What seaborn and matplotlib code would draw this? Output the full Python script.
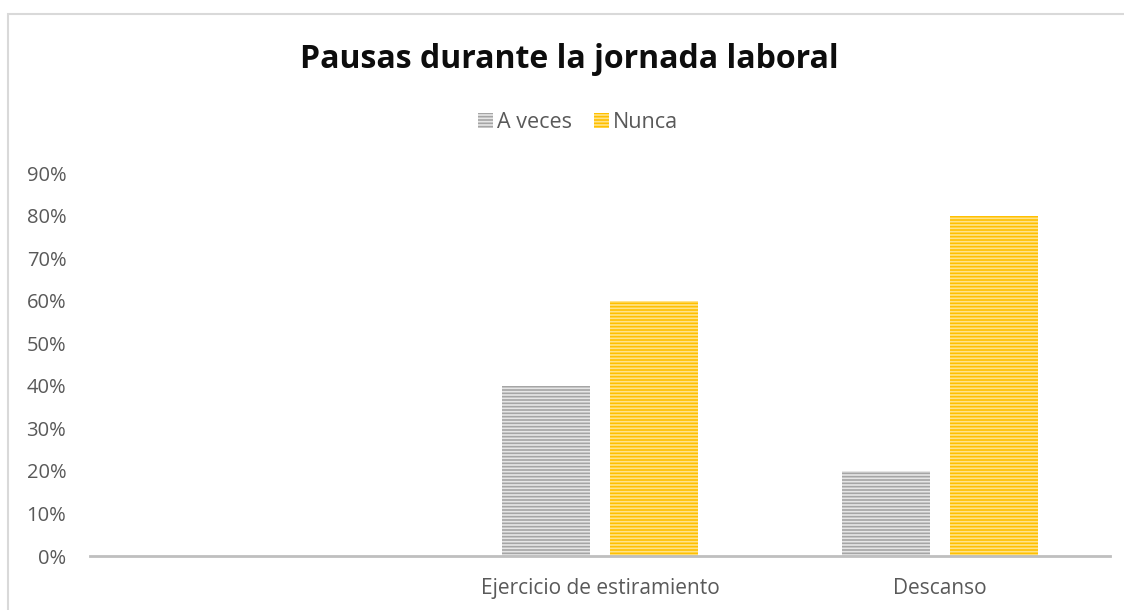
import pandas as pd
import seaborn as sns
import matplotlib.pyplot as plt
from matplotlib.patches import Rectangle
from matplotlib.ticker import PercentFormatter

categorias = ["", "Ejercicio de estiramiento", "Descanso"]
a_veces = [0.0, 0.40, 0.20]
nunca = [0.0, 0.60, 0.80]
series = ["A veces", "Nunca"]

df = pd.DataFrame({"categoria": categorias * 2,
                   "serie": [series[0]] * 3 + [series[1]] * 3,
                   "valor": a_veces + nunca})

sns.set_style("white")
plt.rcParams["font.family"] = ["Open Sans", "DejaVu Sans"]
plt.rcParams["hatch.linewidth"] = 1.2

fig = plt.figure(figsize=(11.24, 6.1), dpi=100)
ax = fig.add_axes([0.080, 0.0885, 0.9075, 0.6275])

colores = {"A veces": "#a5a5a5", "Nunca": "#ffc000"}
sns.barplot(data=df, x="categoria", y="valor", hue="serie", palette=colores,
            width=0.636, gap=0.185, ax=ax, saturation=1, legend=False)

# rayas horizontales claras
claros = ["#e6e6e6", "#ffe38a"]
for cont, c in zip(ax.containers, claros):
    for bar in cont:
        bar.set_hatch("-----")
        bar.set_edgecolor(c)
        bar.set_linewidth(0)

ax.set_ylim(0, 0.9)
ax.set_xlim(-0.5, 2.5)
ax.set_yticks([i / 10 for i in range(10)])
ax.yaxis.set_major_formatter(PercentFormatter(1.0, decimals=0))
ax.tick_params(axis="both", length=0, colors="#595959")
ax.tick_params(axis="y", pad=17, labelsize=14.5)
ax.tick_params(axis="x", pad=16, labelsize=15)
ax.set_xlabel("")
ax.set_ylabel("")
sns.despine(ax=ax, left=True)
ax.spines["bottom"].set_color("#bfbfbf")
ax.spines["bottom"].set_linewidth(2)

handles = [Rectangle((0, 0), 1, 1, facecolor=colores[s], edgecolor=c,
                     hatch="-----", linewidth=0) for s, c in zip(series, claros)]
fig.legend(handles, series, loc="center", bbox_to_anchor=(578 / 1124, 1 - 123 / 610),
           ncol=2, frameon=False, fontsize=15.5, labelcolor="#595959",
           handlelength=0.7, handleheight=0.7, handletextpad=0.2, columnspacing=1.0)

fig.text(569 / 1124, 1 - 60 / 610, "Pausas durante la jornada laboral", ha="center",
         va="center", fontsize=23, fontweight="bold", color="#0d0d0d")

fig.patches.append(Rectangle((8 / 1124, -0.1), 1.2, 1.1 - 14 / 610,
                             transform=fig.transFigure, fill=False,
                             edgecolor="#d9d9d9", linewidth=1.5))

fig.savefig("out.png", dpi=100)
